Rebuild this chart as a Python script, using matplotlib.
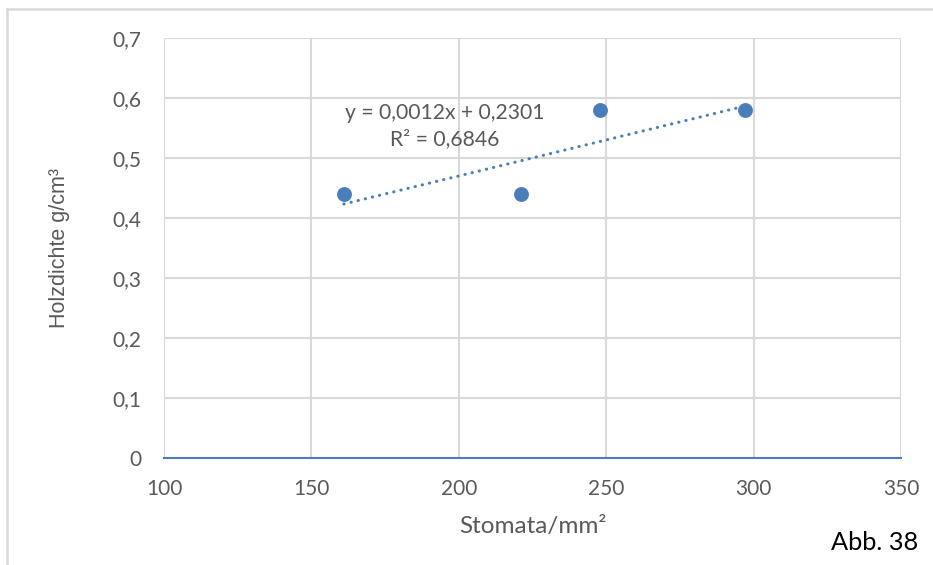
import matplotlib
matplotlib.use("Agg")
import matplotlib.pyplot as plt
from matplotlib.lines import Line2D
import numpy as np

plt.rcParams['font.family'] = ['Lato', 'DejaVu Sans']

# Stomata density vs. wood density
stomata = [161, 221, 248, 297]
holzdichte = [0.44, 0.44, 0.58, 0.58]

# linear trendline coefficients as reported
slope = 0.0012
intercept = 0.2301
r_squared = 0.6846

x_ticks = [100, 150, 200, 250, 300, 350]
y_ticks = [0, 0.1, 0.2, 0.3, 0.4, 0.5, 0.6, 0.7]
y_tick_labels = ['0', '0,1', '0,2', '0,3', '0,4', '0,5', '0,6', '0,7']

blue = '#4a7ebb'
grid = '#d9d9d9'
text_grey = '#595959'

fig = plt.figure(figsize=(9.33, 5.65), dpi=100)
ax = fig.add_axes([164 / 933, 1 - 458 / 565, (901 - 164) / 933, (458 - 38) / 565])

ax.set_xlim(100, 350)
ax.set_ylim(0, 0.7)
ax.set_xticks(x_ticks)
ax.set_xticklabels([str(t) for t in x_ticks])
ax.set_yticks(y_ticks)
ax.set_yticklabels(y_tick_labels)

ax.grid(True, color=grid, linewidth=1.5)
ax.set_axisbelow(True)
for side in ['top', 'right', 'left']:
    ax.spines[side].set_visible(False)
ax.spines['bottom'].set_color(blue)
ax.spines['bottom'].set_linewidth(1.5)
ax.tick_params(axis='both', length=0, labelsize=15, colors=text_grey)
ax.tick_params(axis='y', pad=16)
ax.tick_params(axis='x', pad=15)

# trendline
tx = np.array([min(stomata), max(stomata)])
ty = slope * tx + intercept
ax.plot(tx, ty, color=blue, linewidth=2.2, linestyle=(0, (0.1, 2.3)),
        dash_capstyle='round', zorder=3)

ax.scatter(stomata, holzdichte, s=115, color=blue, zorder=4, linewidths=0)

eq = 'y = {}x + {}\nR² = {}'.format(
    f'{slope:.4f}'.replace('.', ','),
    f'{intercept:.4f}'.replace('.', ','),
    f'{r_squared:.4f}'.replace('.', ','))
ax.text(195.3, 0.5535, eq, ha='center', va='center', fontsize=15.2,
        color=text_grey, linespacing=1.4, zorder=5)

ax.set_xlabel('Stomata/mm²', fontsize=17.5, color=text_grey)
ax.xaxis.label.set_va('center')
ax.xaxis.set_label_coords(0.5, (458 - 527) / 420)

ax.set_ylabel('Holzdichte g/cm³', fontsize=15.5, color=text_grey,
              family=['Liberation Sans', 'DejaVu Sans'])
ax.yaxis.label.set_va('center')
ax.yaxis.set_label_coords((60 - 164) / 737, 0.5)

fig.text(918 / 933, 1 - 542 / 565, 'Abb. 38', ha='right', va='center',
         fontsize=18.3, color='black')

# chart frame
fig.add_artist(Line2D([7 / 933, 1.0], [1 - 9 / 565, 1 - 9 / 565],
                      transform=fig.transFigure, color=grid, linewidth=1.8))
fig.add_artist(Line2D([7 / 933, 7 / 933], [0.0, 1 - 9 / 565],
                      transform=fig.transFigure, color=grid, linewidth=1.8))

fig.savefig('out.png', dpi=100)
